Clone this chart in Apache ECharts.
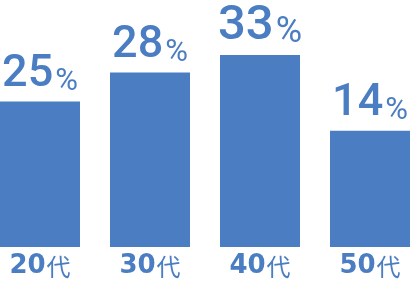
<!DOCTYPE html>
<html><head><meta charset="utf-8">
<script src="https://cdn.jsdelivr.net/npm/echarts@6/dist/echarts.min.js"></script>
<style>html,body{margin:0;padding:0;background:#fff}#c{width:410px;height:285px}</style>
</head><body><div id="c"></div>
<script>
var categories = ['20代', '30代', '40代', '50代'];
var percents = [25, 28, 33, 14];
var barHeights = [25, 30, 33, 20];

var BLUE = '#4a7dc2';
var chart = echarts.init(document.getElementById('c'));
var data = barHeights.map(function (h, i) {
  var big = percents[i] === Math.max.apply(null, percents);
  return {
    value: h,
    label: { formatter: '{' + (big ? 'nb' : 'n') + '|' + percents[i] + '}{' + (big ? 'pb' : 'p') + '|%}' }
  };
});
chart.setOption({
  animation: false,
  grid: { left: -15, right: -15, top: 55, bottom: 38, outerBoundsMode: 'none', containLabel: false },
  xAxis: {
    type: 'category', data: categories,
    axisLine: { show: false }, axisTick: { show: false },
    axisLabel: {
      margin: 6,
      formatter: function (v) { return v.replace(/(\d+)(.*)/, '{d|$1}{k|$2}'); },
      rich: {
        d: { fontFamily: 'DejaVu Sans', fontWeight: 'bold', fontSize: 26, color: BLUE, verticalAlign: 'bottom' },
        k: { fontFamily: 'Noto Sans CJK JP', fontSize: 24, color: BLUE, verticalAlign: 'bottom', padding: [0, 0, 0, 1] }
      }
    }
  },
  yAxis: { type: 'value', min: 0, max: 33, show: false, splitLine: { show: false } },
  series: [{
    type: 'bar', data: data, barWidth: 80,
    itemStyle: { color: BLUE },
    label: {
      show: true, position: 'top', distance: 4,
      rich: {
        n: { fontFamily: 'Roboto', fontWeight: 500, fontSize: 45, color: BLUE, verticalAlign: 'bottom' },
        p: { fontFamily: 'Roboto', fontSize: 31, color: BLUE, verticalAlign: 'bottom', padding: [0, 0, 0, 2] },
        nb: { fontFamily: 'Roboto', fontWeight: 500, fontSize: 49, color: BLUE, verticalAlign: 'bottom' },
        pb: { fontFamily: 'Roboto', fontSize: 36, color: BLUE, verticalAlign: 'bottom', padding: [0, 0, 0, 2] }
      }
    }
  }]
});
</script></body></html>
